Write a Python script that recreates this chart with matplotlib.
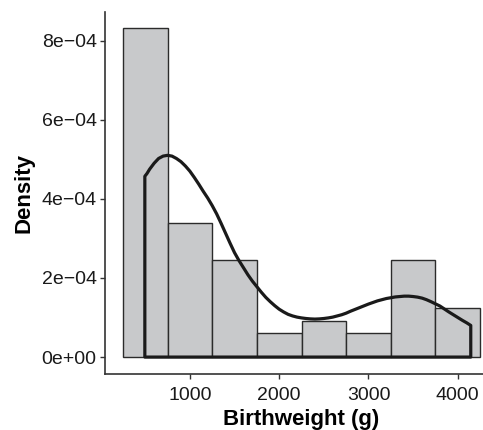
import matplotlib.pyplot as plt
import numpy as np

plt.rcParams['font.family'] = ['Liberation Sans', 'DejaVu Sans']

# histogram: bin edges (g) and counts per bin
bin_edges = [250, 750, 1250, 1750, 2250, 2750, 3250, 3750, 4250]
counts = [27, 11, 8, 2, 3, 2, 8, 4]

# density curve (g, density x 1e-4)
kde_x = [496, 520, 550, 600, 650, 700, 750, 800, 850, 900, 950, 1000,
         1050, 1100, 1150, 1200, 1250, 1300, 1350, 1400, 1450, 1500,
         1550, 1600, 1650, 1700, 1750, 1800, 1850, 1900, 1950, 2000,
         2050, 2100, 2150, 2200, 2250, 2300, 2350, 2400, 2450, 2500,
         2550, 2600, 2650, 2700, 2750, 2800, 2900, 3000, 3100, 3200,
         3300, 3400, 3450, 3500, 3550, 3600, 3650, 3700, 3750, 3800,
         3850, 3900, 3950, 4000, 4050, 4100, 4145]
kde_y = [4.57, 4.64, 4.75, 4.90, 5.02, 5.08, 5.10, 5.08, 5.02, 4.94, 4.83, 4.70,
         4.54, 4.37, 4.19, 4.02, 3.83, 3.62, 3.38, 3.13, 2.88, 2.64,
         2.44, 2.26, 2.08, 1.92, 1.78, 1.64, 1.51, 1.40, 1.30, 1.21,
         1.14, 1.08, 1.04, 1.01, 0.99, 0.975, 0.965, 0.96, 0.965, 0.975,
         0.99, 1.01, 1.04, 1.07, 1.11, 1.16, 1.25, 1.34, 1.42, 1.48,
         1.52, 1.54, 1.54, 1.53, 1.515, 1.49, 1.45, 1.40, 1.345, 1.29,
         1.215, 1.14, 1.07, 1.00, 0.93, 0.865, 0.80]
kde_y = [v * 1e-4 for v in kde_y]

xticks = [1000, 2000, 3000, 4000]
yticks = [0, 2e-4, 4e-4, 6e-4, 8e-4]
ytick_labels = ['0e+00', '2e\u221204', '4e\u221204', '6e\u221204', '8e\u221204']

fig = plt.figure(figsize=(4.83, 4.30), dpi=100)
ax = fig.add_axes([105 / 483, 56.5 / 430, 393 / 483, 361.5 / 430])

centers = [(a + b) / 2 for a, b in zip(bin_edges[:-1], bin_edges[1:])]
ax.hist(centers, bins=bin_edges, weights=counts, density=True,
        facecolor='#c8c9cb', edgecolor='#2b2b2b', linewidth=1.0)

# outline of the density polygon (curve, down to 0 and back along the bottom)
poly_x = kde_x + [kde_x[-1], kde_x[0]]
poly_y = kde_y + [0, 0]
ax.fill(poly_x, poly_y, facecolor='none', edgecolor='#1a1a1a', linewidth=2.3,
        joinstyle='round')

ax.set_xlim(50, 4450)
top = max(c / (sum(counts) * 500) for c in counts)
ax.set_ylim(-0.05 * top, 1.05 * top)

ax.set_xticks(xticks)
ax.set_xticklabels([str(t) for t in xticks])
ax.set_yticks(yticks)
ax.set_yticklabels(ytick_labels)
ax.tick_params(labelsize=14, colors='#333333', labelcolor='#1a1a1a',
               length=3.5, width=1)
ax.tick_params(axis='x', pad=6)
ax.tick_params(axis='y', pad=2.5)

for s in ['top', 'right']:
    ax.spines[s].set_visible(False)
for s in ['left', 'bottom']:
    ax.spines[s].set_color('#333333')
    ax.spines[s].set_linewidth(1.2)

ax.set_xlabel('Birthweight (g)', fontsize=16, fontweight='bold', labelpad=4)
ax.set_ylabel('Density', fontsize=16, fontweight='bold', labelpad=5)

plt.savefig('out.png', dpi=100)
